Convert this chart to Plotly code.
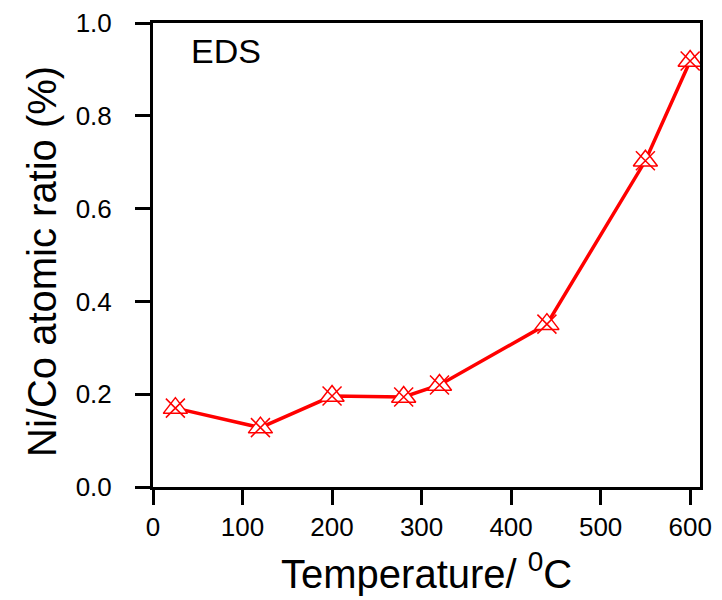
import plotly.graph_objects as go

temperature = [25, 120, 200, 280, 320, 440, 550, 600]
ratio = [0.170, 0.128, 0.196, 0.194, 0.220, 0.351, 0.703, 0.918]
x_ticks = [0, 100, 200, 300, 400, 500, 600]
y_ticks = [0.0, 0.2, 0.4, 0.6, 0.8, 1.0]

red = "#ff0000"
fig = go.Figure()
fig.add_trace(go.Scatter(x=temperature, y=ratio, mode="lines",
                         line=dict(color=red, width=3.5), showlegend=False, hoverinfo="skip"))
fig.add_trace(go.Scatter(x=temperature, y=ratio, mode="markers",
                         marker=dict(symbol="triangle-up", size=21, color="white",
                                     line=dict(color=red, width=1.5)),
                         showlegend=False))
fig.add_trace(go.Scatter(x=temperature, y=ratio, mode="markers",
                         marker=dict(symbol="x-thin", size=19, color=red,
                                     line=dict(color=red, width=1.5)),
                         showlegend=False))

font = "Liberation Sans, Arial, sans-serif"
axis_common = dict(showline=True, linecolor="black", linewidth=3, mirror=True,
                   ticks="outside", ticklen=15, tickwidth=3, tickcolor="black",
                   showgrid=False, zeroline=False, automargin=False,
                   tickfont=dict(family=font, size=26, color="black"))
fig.update_xaxes(range=[0, 611], tickvals=x_ticks,
                 ticktext=[str(v) for v in x_ticks], **axis_common)
fig.update_yaxes(range=[0, 1.0], tickvals=y_ticks, ticklabelstandoff=18,
                 ticktext=[f"{v:.1f}" for v in y_ticks], **axis_common)

# axis titles placed as annotations (pixel-matched to reference)
fig.add_annotation(text="Temperature/ <sup>0</sup>C", xref="paper", yref="paper",
                   x=(426 - 153) / 547, y=-(571 - 487) / 464,
                   xanchor="center", yanchor="middle", showarrow=False,
                   font=dict(family=font, size=40, color="black"))
fig.add_annotation(text="Ni/Co atomic ratio (%)", xref="paper", yref="paper",
                   x=-(153 - 42) / 547, y=(487 - 262) / 464, textangle=-90,
                   xanchor="center", yanchor="middle", showarrow=False,
                   font=dict(family=font, size=40, color="black"))
fig.add_annotation(text="EDS", xref="paper", yref="paper", x=0.065, y=0.94,
                   xanchor="left", yanchor="middle", showarrow=False,
                   font=dict(family=font, size=34, color="black"))
fig.update_layout(width=722, height=600, margin=dict(l=153, r=22, t=23, b=113, autoexpand=False),
                  paper_bgcolor="white", plot_bgcolor="white")
fig.write_html("out.html")
